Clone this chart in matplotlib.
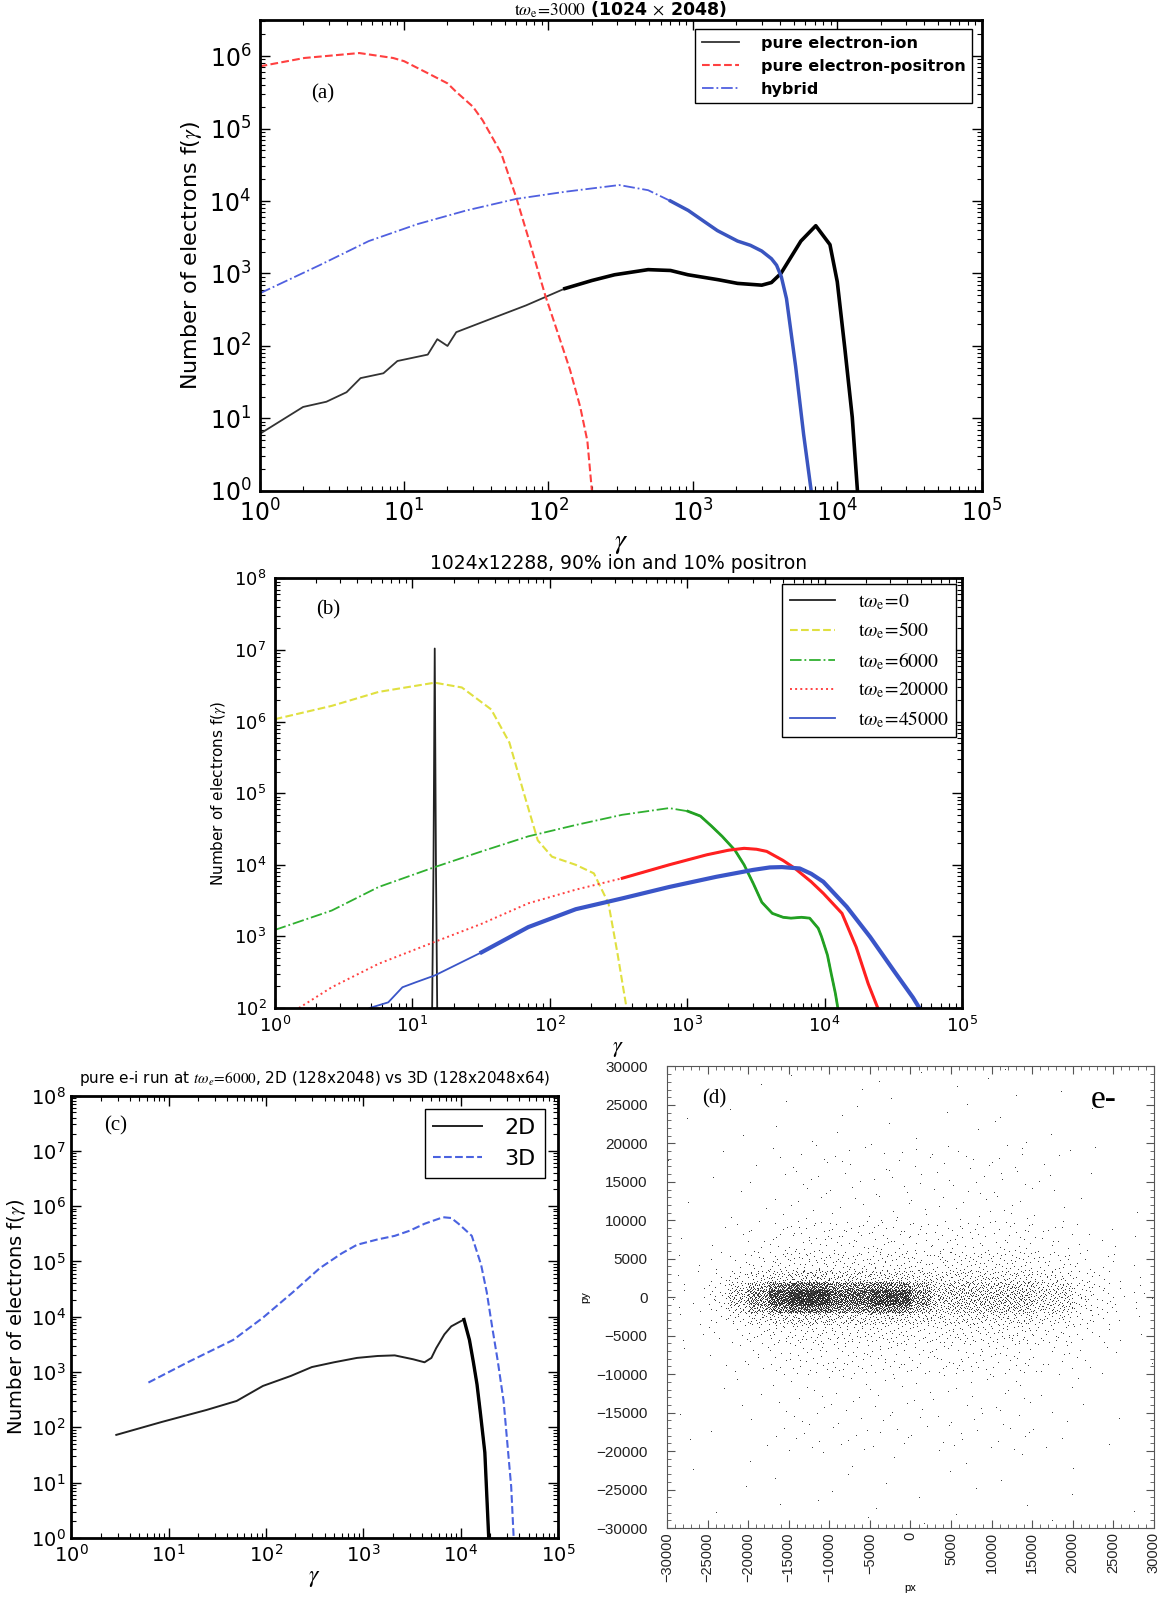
import numpy as np
import matplotlib
matplotlib.use("Agg")
import matplotlib.pyplot as plt
from matplotlib.ticker import LogLocator, MultipleLocator, NullFormatter

plt.rcParams['mathtext.fontset'] = 'stix'
plt.rcParams['font.family'] = ['DejaVu Sans']

# ---- panel (a): t w_e = 3000 ----
a_ei_g = [1, 2, 2.9, 4, 5, 7.2, 9, 14.6, 17, 20, 23, 40, 70, 130, 200, 287, 490, 700, 925,
          1500, 2040, 3000, 3500, 4070, 5600, 7100, 8900, 10000, 11300, 12700, 13800]
a_ei_f = [6.1, 14.4, 17, 23, 36, 42, 62, 76, 124, 100, 155, 237, 363, 620, 800, 960, 1130,
          1100, 960, 820, 730, 690, 750, 1000, 2800, 4560, 2500, 770, 90, 10.4, 1]
a_ep_g = [1, 2.04, 4.9, 8.4, 10, 14.6, 20, 23, 30, 35, 47, 60, 75, 95, 120, 141, 166, 186,
          200]
a_ep_f = [7.2e5, 9.4e5, 1.1e6, 9.4e5, 8.5e5, 5.8e5, 4.2e5, 3.2e5, 2e5, 1.3e5, 4.6e4, 1.1e4,
          2.5e3, 500, 124, 47, 14.4, 4.9, 1]
a_hy_g = [1, 2.6, 5.7, 12.4, 27, 60, 130, 309, 490, 700, 930, 1200, 1480, 2040, 2500, 3000,
          3500, 3800, 4100, 4450, 5150, 5850, 6600]
a_hy_f = [530, 1300, 2800, 4800, 7400, 1.07e4, 1.34e4, 1.66e4, 1.41e4, 1.0e4, 7400, 5200,
          3900, 2800, 2450, 2040, 1600, 1300, 900, 450, 52, 6, 1]

# ---- panel (b): 1024x12288, 90% ion / 10% positron ----
b_t0_g = [13.9, 14.3, 14.6, 14.9, 15.3]
b_t0_f = [30, 1e4, 1.05e7, 1e4, 30]
b_t500_g = [1, 2.6, 5.7, 14.6, 23, 37.6, 51, 65, 82, 104, 155, 210, 268, 312, 363]
b_t500_f = [1.08e6, 1.66e6, 2.6e6, 3.5e6, 3.0e6, 1.48e6, 5.1e5, 1e5, 2.2e4, 1.3e4, 1e4,
            7.6e3, 2.9e3, 575, 100]
b_t6000_g = [1, 2.6, 5.7, 14.6, 32, 70, 155, 338, 740, 1015, 1250, 1500, 1800, 2230, 2600,
             3030, 3500, 4170, 5000, 5700, 6800, 7800, 9000, 9500, 10500, 11200, 12000, 12500]
b_t6000_f = [1.23e3, 2.3e3, 4.9e3, 9.3e3, 1.54e4, 2.5e4, 3.6e4, 5e4, 6.2e4, 5.6e4, 4.8e4,
             3.5e4, 2.5e4, 1.6e4, 1e4, 5.5e3, 3e3, 2.1e3, 1.85e3, 1.8e3, 1.85e3, 1.8e3,
             1.3e3, 1e3, 550, 300, 160, 100]
b_t20000_g = [1.5, 2.6, 5.7, 14.6, 32, 70, 155, 338, 740, 1390, 2000, 2600, 3200, 3800,
              5000, 6100, 8000, 9800, 13400, 17000, 20800, 24400]
b_t20000_f = [100, 195, 415, 840, 1.5e3, 2.9e3, 4.5e3, 6.5e3, 1e4, 1.38e4, 1.6e4, 1.7e4,
              1.65e4, 1.54e4, 1.15e4, 8.9e3, 5.8e3, 4e3, 2.1e3, 710, 218, 100]
b_t45000_g = [4.9, 6.7, 8.5, 10.7, 14.6, 21.7, 32, 70, 155, 338, 740, 1630, 3030, 4000,
              4900, 6600, 8000, 9800, 14500, 21500, 32000, 44000, 49000]
b_t45000_f = [100, 120, 195, 230, 285, 415, 600, 1.35e3, 2.4e3, 3.4e3, 4.9e3, 6.8e3, 8.5e3,
              9.2e3, 9.3e3, 8.9e3, 7.5e3, 5.8e3, 2.6e3, 980, 330, 140, 100]

# ---- panel (c): pure e-i run, 2D vs 3D ----
c_2d_g = [2.9, 8.5, 24.5, 50, 93, 180, 296, 500, 860, 1400, 2100, 3250, 4250, 5000, 5600,
          6800, 8000, 9500, 10800, 12300, 13500, 14700, 16000, 17700, 19400]
c_2d_f = [73, 125, 206, 300, 560, 850, 1230, 1500, 1800, 1950, 2000, 1700, 1500, 1800, 2700,
          4800, 6700, 7900, 8900, 3800, 1500, 600, 170, 35, 1]
c_3d_g = [6.2, 15.7, 46, 93, 190, 355, 600, 860, 1400, 2100, 3000, 4250, 6600, 8000, 9500,
          11000, 13000, 14500, 16200, 18500, 21000, 24000, 27600, 33000, 35000]
c_3d_f = [645, 1.5e3, 3.8e3, 9.6e3, 2.8e4, 7.5e4, 1.4e5, 2e5, 2.5e5, 2.9e5, 3.6e5, 4.8e5,
          6.3e5, 6.1e5, 4.8e5, 3.8e5, 2.9e5, 1.6e5, 8.7e4, 2.8e4, 6.7e3, 1.6e3, 295, 8.5, 1]

# ---- panel (d): px-py phase space, dot counts per cell ----
d_px_edges = [-30000, -25000, -22500, -20000, -17500, -15000, -10000, -5000, -2500, 0,
              2500, 5000, 10000, 15000, 20000, 22500, 25000, 30000]
d_py_edges = [30000, 20000, 10000, 6000, 3500, 2000, 1000, 0, -1000, -2000, -3500, -6000,
              -10000, -20000, -30000]
d_counts = [
    [1, 1, 2, 1, 2, 2, 4, 2, 1, 2, 1, 4, 5, 2, 1, 0, 0],
    [2, 2, 2, 3, 5, 16, 14, 8, 8, 8, 8, 16, 18, 8, 2, 1, 1],
    [1, 2, 3, 6, 9, 25, 25, 13, 12, 11, 11, 22, 22, 14, 4, 2, 2],
    [2, 3, 5, 10, 15, 35, 35, 18, 17, 15, 15, 35, 35, 22, 5, 3, 2],
    [2, 4, 11, 20, 30, 70, 60, 30, 30, 25, 22, 45, 45, 30, 6, 4, 2],
    [2, 4, 20, 45, 85, 220, 160, 95, 85, 45, 25, 60, 60, 40, 8, 4, 2],
    [2, 6, 30, 70, 150, 380, 250, 170, 160, 70, 30, 70, 70, 45, 8, 4, 3],
    [2, 6, 30, 70, 150, 380, 250, 170, 160, 70, 30, 70, 70, 45, 8, 4, 3],
    [2, 4, 20, 45, 85, 220, 160, 95, 85, 45, 25, 60, 60, 40, 8, 4, 2],
    [2, 4, 11, 20, 30, 70, 60, 30, 30, 25, 22, 45, 45, 30, 6, 4, 2],
    [2, 3, 5, 10, 15, 35, 35, 18, 17, 15, 15, 35, 35, 22, 5, 3, 2],
    [1, 2, 3, 6, 9, 25, 25, 13, 12, 11, 11, 25, 22, 14, 4, 2, 2],
    [2, 2, 2, 3, 5, 16, 16, 8, 7, 7, 7, 14, 16, 7, 2, 1, 1],
    [1, 1, 1, 1, 2, 3, 4, 2, 1, 2, 1, 3, 3, 2, 1, 0, 1],
]


def halton(n, base, start=1):
    out = np.empty(n)
    for k in range(n):
        i, f, r = k + start, 1.0, 0.0
        while i > 0:
            f /= base
            r += f * (i % base)
            i //= base
        out[k] = r
    return out


def style_log(ax, ylim, tick_size, spine_w=2.0):
    ax.set_xscale('log')
    ax.set_yscale('log')
    ax.set_xlim(1, 1e5)
    ax.set_ylim(*ylim)
    for s in ax.spines.values():
        s.set_linewidth(spine_w)
    ax.tick_params(which='both', direction='in', top=True, right=True)
    ax.tick_params(which='major', length=7, width=1, labelsize=tick_size, pad=6)
    ax.tick_params(which='minor', length=3.5, width=0.8)
    ax.xaxis.set_major_locator(LogLocator(base=10, numticks=10))
    ax.yaxis.set_major_locator(LogLocator(base=10, numticks=12))
    ax.xaxis.set_minor_locator(LogLocator(base=10, subs=np.arange(2, 10), numticks=20))
    ax.yaxis.set_minor_locator(LogLocator(base=10, subs=np.arange(2, 10), numticks=20))
    ax.xaxis.set_minor_formatter(NullFormatter())
    ax.yaxis.set_minor_formatter(NullFormatter())


def seg(g, f, gmin):
    g = np.asarray(g)
    f = np.asarray(f)
    m = g >= gmin
    return g[m], f[m]


fig = plt.figure(figsize=(11.59, 15.97), dpi=100)
serif = ['Liberation Serif', 'DejaVu Serif']

# ---------------- (a) ----------------
ax = fig.add_axes([0.224, 0.6926, 0.623, 0.295])
ax.plot(a_ei_g, a_ei_f, color='#333333', lw=1.3, label='pure electron-ion')
ax.plot(*seg(a_ei_g, a_ei_f, 100), color='black', lw=2.6)
ax.plot(a_ep_g, a_ep_f, color='#ff4040', lw=1.5, ls='--', label='pure electron-positron')
ax.plot(a_hy_g, a_hy_f, color='#5060e0', lw=1.3, ls='-.', label='hybrid')
ax.plot(*seg(a_hy_g, a_hy_f, 600), color='#3a55c0', lw=2.5)
style_log(ax, (1, 10 ** 6.5), 17)
ax.set_xlabel(r'$\gamma$', fontsize=20, labelpad=1)
ax.set_ylabel(r'Number of electrons f($\gamma$)', fontsize=16)
ax.set_title(r'$\mathrm{t}\omega_\mathrm{e}\!=\!3000$ (1024 $\times$ 2048)', fontsize=12.5,
             fontweight='bold', pad=3)
ax.text(0.072, 0.833, '(a)', transform=ax.transAxes, fontsize=15, family=serif)
leg = ax.legend(loc='upper right', prop={'weight': 'bold', 'size': 11.5},
                fancybox=False, edgecolor='black', framealpha=1, borderaxespad=0.6,
                handlelength=2.3, handletextpad=1.4)
leg.get_frame().set_linewidth(1.0)

# ---------------- (b) ----------------
ax = fig.add_axes([0.237, 0.3688, 0.593, 0.269])
ax.plot(b_t0_g, b_t0_f, color='#222222', lw=1.3, label=r'$\mathrm{t}\omega_\mathrm{e}\!=\!0$')
ax.plot(b_t500_g, b_t500_f, color='#e0e040', lw=1.5, ls='--',
        label=r'$\mathrm{t}\omega_\mathrm{e}\!=\!500$')
ax.plot(b_t6000_g, b_t6000_f, color='#30b030', lw=1.3, ls='-.',
        label=r'$\mathrm{t}\omega_\mathrm{e}\!=\!6000$')
ax.plot(*seg(b_t6000_g, b_t6000_f, 1015), color='#22a022', lw=2.0)
ax.plot(b_t20000_g, b_t20000_f, color='#ff4040', lw=1.4, ls=':',
        label=r'$\mathrm{t}\omega_\mathrm{e}\!=\!20000$')
ax.plot(*seg(b_t20000_g, b_t20000_f, 338), color='#ff2020', lw=2.2)
ax.plot(b_t45000_g, b_t45000_f, color='#3a55c8', lw=1.3,
        label=r'$\mathrm{t}\omega_\mathrm{e}\!=\!45000$')
ax.plot(*seg(b_t45000_g, b_t45000_f, 30), color='#3a55c8', lw=3.0)
style_log(ax, (1e2, 1e8), 13)
ax.set_xlabel(r'$\gamma$', fontsize=16, labelpad=2)
ax.set_ylabel(r'Number of electrons f($\gamma$)', fontsize=11)
ax.set_title('1024x12288, 90% ion and 10% positron', fontsize=13.5, pad=7)
ax.text(0.061, 0.917, '(b)', transform=ax.transAxes, fontsize=15, family=serif)
leg = ax.legend(loc='upper right', fontsize=14, fancybox=False, edgecolor='black',
                framealpha=1, borderaxespad=0.3, handlelength=2.3, handletextpad=1.2,
                labelspacing=0.45)
leg.get_frame().set_linewidth(1.0)

# ---------------- (c) ----------------
ax = fig.add_axes([0.0615, 0.037, 0.42, 0.277])
ax.plot(c_2d_g, c_2d_f, color='#222222', lw=1.4, label='2D')
ax.plot(*seg(c_2d_g, c_2d_f, 10800), color='black', lw=2.4)
ax.plot(c_3d_g, c_3d_f, color='#4a62e0', lw=1.5, ls='--', label='3D')
style_log(ax, (1, 1e8), 14)
ax.tick_params(which='major', pad=4)
ax.set_xlabel(r'$\gamma$', fontsize=17, labelpad=0)
ax.set_ylabel(r'Number of electrons f($\gamma$)', fontsize=14, labelpad=2)
ax.set_title(r'pure e-i run at $t\omega_e\!=\!6000$, 2D (128x2048) vs 3D (128x2048x64)',
             fontsize=11, pad=9)
ax.text(0.067, 0.92, '(c)', transform=ax.transAxes, fontsize=15, family=serif)
leg = ax.legend(loc='upper right', fontsize=16, fancybox=False, edgecolor='black',
                framealpha=1, borderaxespad=0.6, handlelength=2.2, handletextpad=1.0)
leg.get_frame().set_linewidth(1.0)

# ---------------- (d) ----------------
ax = fig.add_axes([0.5755, 0.0432, 0.42, 0.289])
xs, ys = [], []
offset = 1
for r in range(len(d_py_edges) - 1):
    for c in range(len(d_px_edges) - 1):
        n = d_counts[r][c]
        if n == 0:
            continue
        x0, x1 = d_px_edges[c], d_px_edges[c + 1]
        y0, y1 = d_py_edges[r + 1], d_py_edges[r]
        xs.append(x0 + halton(n, 2, offset) * (x1 - x0))
        ys.append(y0 + halton(n, 3, offset) * (y1 - y0))
        offset += n
xs = np.concatenate(xs)
ys = np.concatenate(ys)
ax.scatter(xs, ys, s=1.5, c='#151515', marker='.', linewidths=0)
ax.set_xlim(-30000, 30000)
ax.set_ylim(-30000, 30000)
ax.xaxis.set_major_locator(MultipleLocator(5000))
ax.yaxis.set_major_locator(MultipleLocator(5000))
ax.xaxis.set_minor_locator(MultipleLocator(1000))
ax.yaxis.set_minor_locator(MultipleLocator(1000))
ax.tick_params(which='both', direction='in', top=True, right=True, color='#555555')
ax.tick_params(which='major', length=6, labelcolor='#222222')
ax.tick_params(which='minor', length=3)
ax.tick_params(axis='x', labelrotation=90, labelsize=10.5, pad=3)
ax.tick_params(axis='y', labelsize=11, pad=14)
for s in ax.spines.values():
    s.set_linewidth(0.8)
    s.set_color('#555555')
for lab in ax.get_xticklabels() + ax.get_yticklabels():
    lab.set_family(['Liberation Sans', 'DejaVu Sans'])
ax.set_xlabel('px', fontsize=8, family=['Liberation Sans'], labelpad=1)
ax.set_ylabel('py', fontsize=8, family=['Liberation Sans'], labelpad=4)
ax.text(0.073, 0.92, '(d)', transform=ax.transAxes, fontsize=15, family=serif)
ax.text(0.87, 0.91, 'e-', transform=ax.transAxes, fontsize=24, family=serif)

fig.savefig('out.png', dpi=100)
